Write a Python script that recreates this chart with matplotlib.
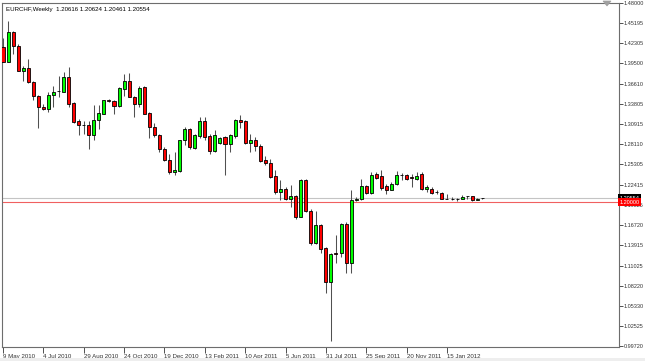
import matplotlib
matplotlib.use("Agg")
import matplotlib.pyplot as plt
from matplotlib.patches import Polygon, Rectangle
from matplotlib.transforms import blended_transform_factory

plt.rcParams['font.family'] = ['Liberation Sans', 'DejaVu Sans']

# EURCHF weekly candles (9 May 2010 .. 4 Mar 2012)
opens = [1.4177, 1.3976, 1.4397, 1.4201, 1.3850, 1.3888, 1.3695, 1.3499, 1.3335, 1.3312,
         1.3513, 1.3559, 1.3555, 1.3766, 1.3391, 1.3134, 1.3088, 1.3078, 1.2947, 1.3148,
         1.3242, 1.3429, 1.3419, 1.3349, 1.3593, 1.3700, 1.3485, 1.3383, 1.3615, 1.3256,
         1.3054, 1.2938, 1.2751, 1.2587, 1.2423, 1.2437, 1.2867, 1.3032, 1.2759, 1.2924,
         1.3134, 1.2924, 1.2717, 1.2835, 1.2914, 1.2811, 1.2924, 1.3158, 1.3134, 1.2835,
         1.2867, 1.2783, 1.2587, 1.2549, 1.2362, 1.2142, 1.2190, 1.2039, 1.2081, 1.1791,
         1.2316, 1.1875, 1.1426, 1.1674, 1.1356, 1.0879, 1.1280, 1.1277, 1.1698, 1.1145,
         1.2035, 1.2039, 1.2222, 1.2128, 1.2390, 1.2362, 1.2222, 1.2176, 1.2260, 1.2378,
         1.2386, 1.2346, 1.2330, 1.2400, 1.2190, 1.2190, 1.2144, 1.2133, 1.2050, 1.2050,
         1.2040, 1.2049, 1.2082, 1.2081, 1.2035, 1.20616]
highs = [1.4303, 1.4552, 1.4411, 1.4225, 1.3920, 1.4014, 1.3710, 1.3509, 1.3383, 1.3545,
         1.3639, 1.3780, 1.3836, 1.3896, 1.3405, 1.3172, 1.3134, 1.3134, 1.3368, 1.3368,
         1.3439, 1.3453, 1.3439, 1.3625, 1.3803, 1.3812, 1.3499, 1.3639, 1.3639, 1.3265,
         1.3110, 1.2961, 1.2773, 1.2680, 1.2703, 1.2877, 1.3054, 1.3040, 1.2961, 1.3194,
         1.3194, 1.2961, 1.3008, 1.2914, 1.2924, 1.2961, 1.3172, 1.3219, 1.3148, 1.2961,
         1.2914, 1.2811, 1.2643, 1.2611, 1.2446, 1.2306, 1.2212, 1.2236, 1.2095, 1.2330,
         1.2330, 1.1909, 1.1875, 1.1688, 1.1370, 1.1286, 1.1534, 1.1705, 1.1716, 1.2176,
         1.2072, 1.2320, 1.2236, 1.2423, 1.2423, 1.2456, 1.2260, 1.2282, 1.2437, 1.2409,
         1.2400, 1.2400, 1.2423, 1.2423, 1.2236, 1.2212, 1.2176, 1.2142, 1.2119, 1.2065,
         1.2063, 1.2095, 1.2085, 1.2090, 1.2060, 1.20624]
lows = [1.3966, 1.3966, 1.4084, 1.3840, 1.3700, 1.3681, 1.3439, 1.3046, 1.3289, 1.3265,
        1.3335, 1.3475, 1.3552, 1.3335, 1.3110, 1.2947, 1.2952, 1.2751, 1.2867, 1.3032,
        1.3232, 1.3405, 1.3232, 1.3335, 1.3499, 1.3475, 1.3194, 1.3335, 1.3232, 1.2905,
        1.2914, 1.2703, 1.2577, 1.2400, 1.2376, 1.2423, 1.2797, 1.2751, 1.2751, 1.2905,
        1.2867, 1.2680, 1.2703, 1.2821, 1.2376, 1.2703, 1.2905, 1.3046, 1.2821, 1.2703,
        1.2717, 1.2563, 1.2517, 1.2334, 1.2119, 1.2025, 1.2025, 1.1931, 1.1768, 1.1785,
        1.1861, 1.1394, 1.1408, 1.1277, 1.0716, 1.0051, 1.1137, 1.1230, 1.0997, 1.0997,
        1.2011, 1.2025, 1.2119, 1.2119, 1.2330, 1.2176, 1.2119, 1.2166, 1.2236, 1.2306,
        1.2306, 1.2212, 1.2306, 1.2176, 1.2142, 1.2119, 1.2119, 1.2045, 1.2039, 1.2035,
        1.2015, 1.2039, 1.2039, 1.2020, 1.2025, 1.20461]
closes = [1.3976, 1.4397, 1.4191, 1.3850, 1.3888, 1.3686, 1.3489, 1.3335, 1.3312, 1.3513,
          1.3555, 1.3565, 1.3766, 1.3383, 1.3124, 1.3078, 1.3088, 1.2938, 1.3148, 1.3251,
          1.3429, 1.3419, 1.3349, 1.3607, 1.3700, 1.3485, 1.3383, 1.3607, 1.3242, 1.3054,
          1.2938, 1.2751, 1.2587, 1.2423, 1.2446, 1.2867, 1.3032, 1.2773, 1.2938, 1.3134,
          1.2914, 1.2717, 1.2938, 1.2905, 1.2811, 1.2938, 1.3158, 1.3124, 1.2835, 1.2867,
          1.2783, 1.2577, 1.2549, 1.2352, 1.2142, 1.2190, 1.2039, 1.2081, 1.1791, 1.2316,
          1.1875, 1.1426, 1.1674, 1.1347, 1.0879, 1.1267, 1.1275, 1.1698, 1.1145, 1.2035,
          1.2042, 1.2222, 1.2128, 1.2380, 1.2344, 1.2204, 1.2176, 1.2260, 1.2376, 1.2375,
          1.2330, 1.2344, 1.2362, 1.2190, 1.2212, 1.2133, 1.2142, 1.2049, 1.2049, 1.2049,
          1.2039, 1.2072, 1.2081, 1.2025, 1.2049, 1.20554]

date_labels = ['9 May 2010', '4 Jul 2010', '29 Aug 2010', '24 Oct 2010', '19 Dec 2010',
               '13 Feb 2011', '10 Apr 2011', '5 Jun 2011', '31 Jul 2011', '25 Sep 2011',
               '20 Nov 2011', '15 Jan 2012']
price_ticks = [1.48000, 1.45195, 1.42305, 1.39500, 1.36610, 1.33805, 1.30915, 1.28110,
               1.25305, 1.22415, 1.19525, 1.16720, 1.13915, 1.11025, 1.08220, 1.05330,
               1.02525, 0.99720]
bid = 1.20554
level = 1.20000

W, H = 645, 361
fig = plt.figure(figsize=(W / 100, H / 100), dpi=100)
fig.patch.set_facecolor('white')
ax = fig.add_axes([2 / W, 1 - 346.5 / H, 616.5 / W, 343.5 / H])

n = len(opens)
xs = list(range(n))

# wicks
for i in xs:
    ax.vlines(i, lows[i], highs[i], color='#505050', lw=0.75, zorder=2)

# bodies
for i in xs:
    up = closes[i] >= opens[i]
    bot = min(opens[i], closes[i])
    h = abs(closes[i] - opens[i])
    ax.add_patch(Rectangle((i - 0.3, bot), 0.6, h,
                           facecolor='#00ff00' if up else '#ff0000',
                           edgecolor='black', lw=0.6, zorder=3))

ax.axhline(bid, color='#c4c4c4', lw=0.8, zorder=1)
ax.axhline(level, color='#f06060', lw=0.8, zorder=1)

ax.set_xlim(-0.2, 122.0)
ax.set_ylim(0.9969, 1.4800)

ax.yaxis.tick_right()
ax.set_yticks(price_ticks)
ax.set_yticklabels(['%.5f' % v for v in price_ticks])
ax.set_xticks(list(range(0, 8 * len(date_labels), 8)))
ax.set_xticklabels(date_labels, ha='left')
ax.tick_params(axis='y', direction='out', length=3, width=0.6, pad=1,
               labelsize=4.0, colors='#333333')
ax.tick_params(axis='x', direction='out', length=4, width=0.6, pad=1.5,
               labelsize=4.4, colors='#333333')
for lab in ax.get_xticklabels():
    lab.set_horizontalalignment('left')
for s in ax.spines.values():
    s.set_color('#6d6d6d')
    s.set_linewidth(0.8)

ax.text(0.007, 0.988, 'EURCHF,Weekly  1.20616 1.20624 1.20461 1.20554',
        transform=ax.transAxes, ha='left', va='top', fontsize=4.4, color='black')

# price boxes on the right axis
tr = blended_transform_factory(ax.transAxes, ax.transData)
ax.text(1.002, bid, '1.20554', transform=tr, ha='left', va='center', fontsize=4.0,
        color='white', clip_on=False, zorder=10,
        bbox=dict(boxstyle='square,pad=0.25', fc='black', ec='black', lw=0))
ax.text(1.002, level, '1.20000', transform=tr, ha='left', va='center', fontsize=4.0,
        color='white', clip_on=False, zorder=11,
        bbox=dict(boxstyle='square,pad=0.25', fc='#ff0000', ec='#ff0000', lw=0))

# chart shift marker and bottom window strip
fig.add_artist(Polygon([(603, H - 1), (611, H - 1), (607, H - 6)], closed=True,
                       transform=None, fc='#a0a0a0', ec='#a0a0a0', lw=0.5))
fig.add_artist(Rectangle((0, 0), W, 3, transform=None, fc='#eeeeee', ec='none'))

fig.savefig('out.png', dpi=100, facecolor='white')
